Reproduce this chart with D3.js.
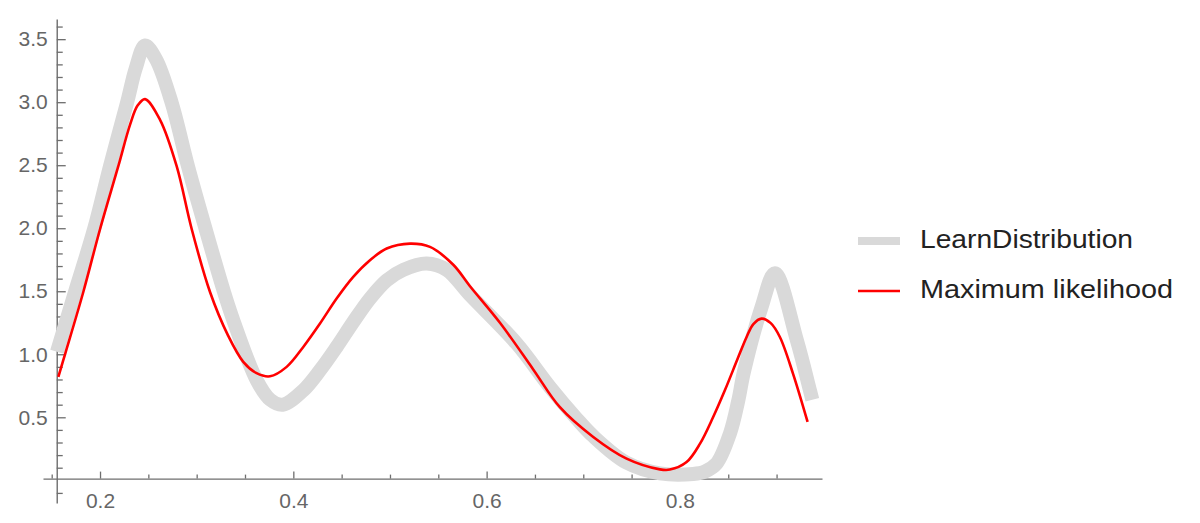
<!DOCTYPE html>
<html>
<head>
<meta charset="utf-8">
<script src="https://cdn.jsdelivr.net/npm/d3@7"></script>
<style>
  html, body { margin: 0; padding: 0; background: #fff; }
  svg { display: block; font-family: "Liberation Sans", Arial, sans-serif; }
</style>
</head>
<body>
<svg id="chart" width="1200" height="523"></svg>
<script>
// LearnDistribution estimate (thick gray)
const learnX = [0.1555, 0.1741, 0.1938, 0.2103, 0.2279, 0.2370, 0.2466, 0.2580, 0.2742, 0.2910,
    0.3093, 0.3283, 0.3379, 0.3621, 0.3760, 0.3890, 0.4103, 0.4276, 0.4448, 0.4620,
    0.4793, 0.4966, 0.5138, 0.5379, 0.5586, 0.5828, 0.6310, 0.6655, 0.6931, 0.7103,
    0.7448, 0.7793, 0.8137, 0.8260, 0.8379, 0.8517, 0.8603, 0.8662, 0.8845, 0.8983,
    0.9210, 0.9345, 0.9370];
const learnY = [1.02, 1.494, 1.992, 2.492, 2.994, 3.27, 3.45, 3.34, 2.994, 2.492,
    1.992, 1.494, 1.27, 0.794, 0.64, 0.60, 0.714, 0.873, 1.058, 1.256,
    1.442, 1.587, 1.67, 1.72, 1.67, 1.47, 1.085, 0.74, 0.49, 0.35,
    0.14, 0.055, 0.05, 0.07, 0.133, 0.37, 0.63, 0.86, 1.375, 1.643,
    1.111, 0.714, 0.64];

// Maximum likelihood estimate (thin red)
const mlX = [0.1569, 0.1638, 0.1827, 0.2000, 0.2189, 0.2310, 0.2390, 0.2466, 0.2621, 0.2793,
    0.2949, 0.3138, 0.3324, 0.3482, 0.3620, 0.3759, 0.3931, 0.4103, 0.4276, 0.4448,
    0.4620, 0.4793, 0.4966, 0.5207, 0.5414, 0.5655, 0.5828, 0.6138, 0.6482, 0.6758,
    0.7103, 0.7448, 0.7793, 0.7896, 0.8069, 0.8208, 0.8344, 0.8465, 0.8600, 0.8690,
    0.8760, 0.8845, 0.8940, 0.9034, 0.9169, 0.9321];
const mlY = [0.82, 1.00, 1.494, 1.992, 2.492, 2.82, 2.975, 3.024, 2.86, 2.492,
    1.992, 1.494, 1.15, 0.94, 0.85, 0.825, 0.90, 1.058, 1.244, 1.442,
    1.614, 1.746, 1.839, 1.878, 1.852, 1.71, 1.54, 1.25, 0.88, 0.58,
    0.344, 0.172, 0.087, 0.085, 0.145, 0.291, 0.502, 0.714, 0.97, 1.137,
    1.24, 1.283, 1.247, 1.137, 0.849, 0.463];

const xMajorTicks = [0.2, 0.4, 0.6, 0.8];
const xMinorTicks = [0.15, 0.25, 0.3, 0.35, 0.45, 0.5, 0.55, 0.65, 0.7, 0.75, 0.85, 0.9];
const yMajorTicks = [0.5, 1.0, 1.5, 2.0, 2.5, 3.0, 3.5];
const yMinorTicks = [-0.1, 0.1, 0.2, 0.3, 0.4, 0.6, 0.7, 0.8, 0.9, 1.1, 1.2, 1.3, 1.4,
    1.6, 1.7, 1.8, 1.9, 2.1, 2.2, 2.3, 2.4, 2.6, 2.7, 2.8, 2.9, 3.1, 3.2, 3.3, 3.4, 3.6];

const legendLabels = ['LearnDistribution', 'Maximum likelihood'];

// axes cross here (data coords)
const originX = 0.1552;
const originY = 0.0135;

const svg = d3.select('#chart');

const x = d3.scaleLinear().domain([0.141, 0.947]).range([43, 822]);
const y = d3.scaleLinear().domain([-0.18, 3.66]).range([503, 19]);

const axisColor = '#6e6e6e';
const labelColor = '#666';

// X axis
svg.append('g')
    .attr('transform', `translate(0, ${y(originY)})`)
    .call(d3.axisBottom(x).tickValues(xMajorTicks).tickSize(-7).tickSizeOuter(0)
        .tickPadding(14).tickFormat(d3.format('.1f')));
svg.append('g')
    .attr('transform', `translate(0, ${y(originY)})`)
    .call(d3.axisBottom(x).tickValues(xMinorTicks).tickSize(-4).tickSizeOuter(0).tickFormat(''))
    .call(g => g.select('.domain').remove());

// Y axis
svg.append('g')
    .attr('transform', `translate(${x(originX)}, 0)`)
    .call(d3.axisLeft(y).tickValues(yMajorTicks).tickSize(-9).tickSizeOuter(0)
        .tickPadding(9).tickFormat(d3.format('.1f')));
svg.append('g')
    .attr('transform', `translate(${x(originX)}, 0)`)
    .call(d3.axisLeft(y).tickValues(yMinorTicks).tickSize(-6).tickSizeOuter(0).tickFormat(''))
    .call(g => g.select('.domain').remove());

svg.selectAll('.domain').attr('stroke', axisColor).attr('stroke-width', 1.4);
svg.selectAll('.tick line').attr('stroke', axisColor).attr('stroke-width', 1.3);
svg.selectAll('.tick text')
    .attr('fill', labelColor)
    .attr('font-size', 21)
    .attr('font-family', '"Liberation Sans", Arial, sans-serif');

// Curves
const line = d3.line()
    .x(d => x(d[0]))
    .y(d => y(d[1]))
    .curve(d3.curveCatmullRom.alpha(0.5));

svg.append('path')
    .datum(d3.zip(learnX, learnY))
    .attr('fill', 'none')
    .attr('stroke', '#d9d9d9')
    .attr('stroke-width', 14)
    .attr('stroke-linejoin', 'round')
    .attr('d', line);

svg.append('path')
    .datum(d3.zip(mlX, mlY))
    .attr('fill', 'none')
    .attr('stroke', '#ff0000')
    .attr('stroke-width', 2.6)
    .attr('stroke-linejoin', 'round')
    .attr('d', line);

// Legend
const legendStyles = [
    { color: '#d9d9d9', width: 8, y: 241, textLen: 213 },
    { color: '#ff0000', width: 2.6, y: 291, textLen: 253 }
];
const legend = svg.append('g');
legendLabels.forEach((label, i) => {
    const s = legendStyles[i];
    legend.append('line')
        .attr('x1', 858).attr('x2', 900)
        .attr('y1', s.y).attr('y2', s.y)
        .attr('stroke', s.color)
        .attr('stroke-width', s.width);
    legend.append('text')
        .attr('x', 920)
        .attr('y', s.y + 7)
        .attr('font-size', 25)
        .attr('fill', '#222')
        .attr('textLength', s.textLen)
        .attr('lengthAdjust', 'spacingAndGlyphs')
        .text(label);
});
</script>
</body>
</html>
